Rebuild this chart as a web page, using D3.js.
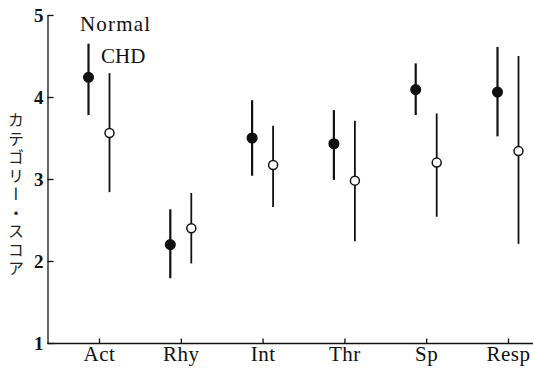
<!DOCTYPE html>
<html><head><meta charset="utf-8">
<script src="https://cdn.jsdelivr.net/npm/d3@7/dist/d3.min.js"></script>
<style>
html,body{margin:0;padding:0;background:#fff;}
svg{display:block;}
</style></head>
<body>
<svg id="c" width="533" height="369"></svg>
<script>
const categories = ["Act","Rhy","Int","Thr","Sp","Resp"];
const normalMean = [4.24, 2.20, 3.50, 3.43, 4.09, 4.06];
const normalLow  = [3.78, 1.79, 3.04, 2.99, 3.78, 3.52];
const normalHigh = [4.65, 2.63, 3.96, 3.84, 4.41, 4.61];
const chdMean = [3.56, 2.40, 3.17, 2.98, 3.20, 3.34];
const chdLow  = [2.84, 1.97, 2.66, 2.24, 2.54, 2.21];
const chdHigh = [4.29, 2.83, 3.65, 3.71, 3.80, 4.50];
const yTicks = [1,2,3,4,5];
const yLabel = "カテゴリー・スコア";

const svg = d3.select("#c");
const serif = "'Liberation Serif','DejaVu Serif',serif";
const x = d3.scalePoint().domain(categories).range([99, 508]);
const y = d3.scaleLinear().domain([1,5]).range([343,15]);
const off = 10.5;

// axes
const yAx = svg.append("g").attr("transform","translate(47.5,0)")
  .call(d3.axisLeft(y).tickValues(yTicks).tickFormat(d3.format("d")).tickSizeInner(-6).tickSizeOuter(0).tickPadding(4));
const xAx = svg.append("g").attr("transform","translate(0,343.5)")
  .call(d3.axisBottom(x).tickSizeInner(-5).tickSizeOuter(0).tickPadding(3));
xAx.select(".domain").attr("d","M47.5,0H533");
[yAx,xAx].forEach(g=>{
  g.attr("font-family",serif);
  g.selectAll("path,line").attr("stroke","#111").attr("stroke-width",1.3);
  g.selectAll("text").attr("font-family",serif).attr("fill","#111");
});
yAx.selectAll("text").attr("font-size",19).attr("font-weight","bold").attr("dy","0.35em");
xAx.selectAll("text").attr("font-size",21).style("letter-spacing","0.5px");

// y label
svg.append("text").attr("x",16).attr("y",112)
  .attr("font-family","'Noto Sans CJK JP',sans-serif").attr("font-size",16)
  .attr("fill","#222")
  .style("writing-mode","vertical-rl").style("letter-spacing","2.5px")
  .text(yLabel);

function series(mean, low, high, dx, filled, sw){
  const g = svg.append("g");
  g.selectAll("line").data(categories).join("line")
    .attr("x1",(d)=>x(d)+dx).attr("x2",(d)=>x(d)+dx)
    .attr("y1",(d,i)=>y(high[i])).attr("y2",(d,i)=>y(low[i]))
    .attr("stroke","#111").attr("stroke-width",sw);
  g.selectAll("circle").data(categories).join("circle")
    .attr("cx",(d)=>x(d)+dx).attr("cy",(d,i)=>y(mean[i]))
    .attr("r", filled?4.8:4.5)
    .attr("fill", filled?"#111":"#fff").attr("stroke","#111").attr("stroke-width",1.5);
}
series(normalMean, normalLow, normalHigh, -off, true, 2.2);
series(chdMean, chdLow, chdHigh, off, false, 1.8);

// legend labels
svg.append("text").attr("x",80).attr("y",31).attr("font-family",serif).attr("font-size",21).style("letter-spacing","1.2px").attr("fill","#111").text("Normal");
svg.append("text").attr("x",101).attr("y",63).attr("font-family",serif).attr("font-size",21).attr("fill","#111").text("CHD");
</script>
</body></html>
